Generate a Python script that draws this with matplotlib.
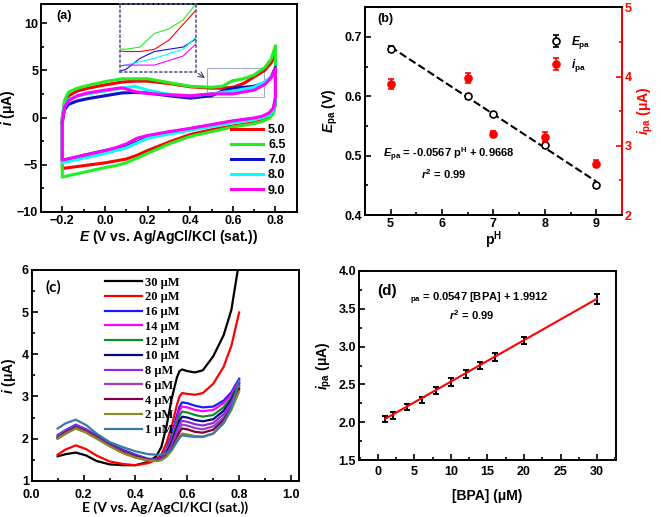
import matplotlib
matplotlib.use("Agg")
import matplotlib.pyplot as plt
from matplotlib.patches import Rectangle
from matplotlib.ticker import MultipleLocator

plt.rcParams['font.family'] = ['Liberation Sans', 'DejaVu Sans']
plt.rcParams['font.weight'] = 'bold'
plt.rcParams['axes.labelweight'] = 'bold'
plt.rcParams['mathtext.fontset'] = 'custom'
plt.rcParams['mathtext.rm'] = 'Liberation Sans:bold'
plt.rcParams['mathtext.it'] = 'Liberation Sans:italic:bold'
plt.rcParams['mathtext.bf'] = 'Liberation Sans:bold'
plt.rcParams['axes.linewidth'] = 1.4

# ---- (a) cyclic voltammograms at different pH ----
ph_labels = ["5.0", "6.5", "7.0", "8.0", "9.0"]
ph_colors = ["#ff0000", "#22ee22", "#1010cc", "#00ffff", "#ff00ff"]
E_fwd = [-0.2, -0.19, -0.17, -0.13, -0.08, 0.0, 0.08, 0.14, 0.2, 0.3, 0.4,
         0.5, 0.55, 0.6, 0.65, 0.7, 0.75, 0.78, 0.8]
i_fwd_50 = [-0.2, 1.5, 2.3, 2.8, 3.1, 3.45, 3.75, 3.85, 3.85, 3.6, 3.25,
            3.1, 3.1, 3.2, 3.6, 4.3, 5.0, 5.8, 6.8]
i_fwd_65 = [0.0, 1.8, 2.7, 3.1, 3.4, 3.8, 4.1, 4.1, 4.1, 3.7, 3.3,
            3.2, 3.3, 3.9, 4.1, 4.5, 5.3, 6.2, 7.6]
i_fwd_70 = [-0.5, 0.8, 1.4, 1.75, 2.0, 2.3, 2.6, 2.65, 2.6, 2.3, 2.05,
            2.3, 2.8, 3.1, 3.2, 3.3, 3.7, 4.3, 5.3]
i_fwd_80 = [-0.3, 1.2, 1.9, 2.25, 2.5, 2.8, 3.1, 3.3, 2.9, 2.45, 2.3,
            2.5, 2.65, 2.8, 3.0, 3.2, 3.8, 4.3, 5.0]
i_fwd_90 = [-0.5, 1.1, 1.8, 2.3, 2.6, 2.9, 3.15, 2.75, 2.55, 2.4, 2.3,
            2.5, 2.5, 2.5, 2.7, 2.9, 3.5, 4.2, 5.2]
E_rev = [0.8, 0.79, 0.77, 0.74, 0.7, 0.6, 0.5, 0.4, 0.3, 0.2, 0.15, 0.1,
         0.05, 0.0, -0.1, -0.2]
i_rev_50 = [1.5, 0.5, 0.0, -0.3, -0.55, -0.9, -1.3, -1.8, -2.6, -3.5, -4.0,
            -4.4, -4.6, -4.8, -5.1, -5.4]
i_rev_65 = [1.5, 0.4, -0.1, -0.4, -0.65, -1.0, -1.5, -2.0, -2.8, -3.8, -4.3,
            -4.8, -5.1, -5.3, -5.8, -6.3]
i_rev_70 = [2.0, 0.9, 0.4, 0.1, -0.1, -0.4, -0.8, -1.2, -1.6, -2.1, -2.6,
            -3.0, -3.3, -3.5, -4.0, -4.6]
i_rev_80 = [2.0, 0.8, 0.3, 0.0, -0.2, -0.55, -0.95, -1.35, -1.75, -2.2, -2.7,
            -3.2, -3.5, -3.8, -4.3, -4.8]
i_rev_90 = [2.2, 1.0, 0.5, 0.15, -0.05, -0.35, -0.75, -1.15, -1.5, -1.9, -2.2,
            -2.8, -3.2, -3.5, -4.0, -4.5]
i_fwd = [i_fwd_50, i_fwd_65, i_fwd_70, i_fwd_80, i_fwd_90]
i_rev = [i_rev_50, i_rev_65, i_rev_70, i_rev_80, i_rev_90]
zoom_x = (0.48, 0.745)
zoom_y = (2.2, 5.2)

# ---- (b) peak potential / current vs pH ----
ph = [5, 6.5, 7, 8, 9]
epa = [0.680, 0.600, 0.570, 0.518, 0.450]
epa_err = [0.005, 0.004, 0.004, 0.005, 0.004]
ipa_ph = [3.89, 3.98, 3.17, 3.13, 2.74]
ipa_ph_err = [0.07, 0.07, 0.05, 0.07, 0.05]
ph_slope, ph_icpt = -0.0567, 0.9668

# ---- (c) DPV at different BPA concentrations ----
conc_labels = ["30 \u03bcM", "20 \u03bcM", "16 \u03bcM", "14 \u03bcM", "12 \u03bcM",
               "10 \u03bcM", "8 \u03bcM", "6 \u03bcM", "4 \u03bcM", "2 \u03bcM", "1 \u03bcM"]
conc_colors = ["#000000", "#ff0000", "#1a1aff", "#ff00ff", "#118a2e", "#0a0a80",
               "#8a2be2", "#9a40c0", "#800040", "#8b8b2a", "#3a78a8"]
E_dpv = [0.10, 0.13, 0.17, 0.21, 0.25, 0.30, 0.35, 0.40, 0.45, 0.48, 0.50, 0.52,
         0.54, 0.56, 0.57, 0.58, 0.60, 0.63, 0.66, 0.70, 0.74, 0.77, 0.80]
i_30 = [1.58, 1.63, 1.67, 1.60, 1.47, 1.39, 1.37, 1.37, 1.45, 1.58, 1.80, 2.30,
        2.95, 3.45, 3.60, 3.64, 3.60, 3.57, 3.62, 3.95, 4.45, 5.05, 6.20]
i_20 = [1.62, 1.74, 1.84, 1.75, 1.60, 1.46, 1.40, 1.37, 1.42, 1.50, 1.62, 1.90,
        2.30, 2.80, 3.00, 3.08, 3.06, 3.04, 3.08, 3.30, 3.70, 4.20, 4.99]
i_16 = [2.08, 2.20, 2.33, 2.22, 2.08, 1.90, 1.74, 1.62, 1.52, 1.52, 1.56, 1.75,
        2.10, 2.55, 2.76, 2.86, 2.84, 2.78, 2.74, 2.76, 2.90, 3.10, 3.42]
i_14 = [2.06, 2.19, 2.32, 2.21, 2.06, 1.88, 1.72, 1.60, 1.51, 1.51, 1.55, 1.72,
        2.03, 2.45, 2.66, 2.76, 2.74, 2.68, 2.65, 2.68, 2.84, 3.05, 3.38]
i_12 = [2.04, 2.17, 2.30, 2.19, 2.05, 1.87, 1.71, 1.59, 1.50, 1.50, 1.54, 1.69,
        1.97, 2.36, 2.55, 2.64, 2.62, 2.56, 2.52, 2.56, 2.74, 2.98, 3.33]
i_10 = [2.02, 2.15, 2.28, 2.18, 2.04, 1.86, 1.70, 1.58, 1.50, 1.49, 1.53, 1.66,
        1.91, 2.26, 2.43, 2.52, 2.50, 2.44, 2.41, 2.46, 2.66, 2.92, 3.30]
i_8 = [2.02, 2.14, 2.27, 2.17, 2.03, 1.85, 1.69, 1.57, 1.49, 1.48, 1.52, 1.63,
       1.85, 2.18, 2.34, 2.42, 2.40, 2.34, 2.31, 2.37, 2.58, 2.86, 3.26]
i_6 = [2.01, 2.13, 2.26, 2.16, 2.02, 1.84, 1.68, 1.56, 1.49, 1.48, 1.51, 1.61,
       1.80, 2.10, 2.25, 2.33, 2.31, 2.25, 2.22, 2.29, 2.50, 2.80, 3.22]
i_4 = [2.00, 2.12, 2.25, 2.15, 2.01, 1.83, 1.67, 1.56, 1.48, 1.47, 1.50, 1.59,
       1.76, 2.02, 2.16, 2.24, 2.22, 2.16, 2.14, 2.21, 2.44, 2.74, 3.18]
i_2 = [2.00, 2.11, 2.24, 2.14, 2.00, 1.82, 1.66, 1.55, 1.48, 1.47, 1.49, 1.57,
       1.72, 1.95, 2.06, 2.12, 2.10, 2.06, 2.05, 2.12, 2.36, 2.68, 3.12]
i_1 = [2.24, 2.36, 2.45, 2.32, 2.12, 1.92, 1.80, 1.70, 1.63, 1.62, 1.62, 1.65,
       1.74, 1.92, 2.02, 2.08, 2.06, 2.04, 2.04, 2.12, 2.38, 2.72, 3.37]
i_dpv = [i_30, i_20, i_16, i_14, i_12, i_10, i_8, i_6, i_4, i_2, i_1]

# ---- (d) calibration ----
bpa = [1, 2, 4, 6, 8, 10, 12, 14, 16, 20, 30]
ipa_bpa = [2.04, 2.09, 2.20, 2.30, 2.42, 2.53, 2.64, 2.75, 2.86, 3.08, 3.63]
ipa_bpa_err = [0.04, 0.04, 0.04, 0.04, 0.04, 0.05, 0.05, 0.05, 0.05, 0.05, 0.07]
bpa_slope, bpa_icpt = 0.0547, 1.9912

fig = plt.figure(figsize=(6.61, 5.17), dpi=100)
TICK = 9
LAB = 10


def style(ax):
    ax.tick_params(direction='in', which='both', labelsize=TICK, width=1.2,
                   top=False, right=False, pad=2)
    ax.tick_params(which='major', length=4)
    ax.tick_params(which='minor', length=2.5)


# (a)
ax = fig.add_axes([0.062, 0.590, 0.387, 0.402])
for lab, col, yf, yr in zip(ph_labels, ph_colors, i_fwd, i_rev):
    ax.plot(E_fwd + E_rev + E_fwd[:1], yf + yr + yf[:1], color=col, lw=2.2, label=lab)
ax.set_xlim(-0.3, 0.9)
ax.set_ylim(-10, 12)
ax.xaxis.set_minor_locator(MultipleLocator(0.1))
ax.yaxis.set_major_locator(MultipleLocator(5))
ax.yaxis.set_minor_locator(MultipleLocator(2.5))
ax.set_xticks([-0.2, 0.0, 0.2, 0.4, 0.6, 0.8])
style(ax)
ax.set_xlabel(r"$\mathit{E}$ (V vs. Ag/AgCl/KCl (sat.))", fontsize=LAB, labelpad=1)
ax.set_ylabel(r"$\mathit{i}$ (μA)", fontsize=LAB, labelpad=0)
ax.text(0.06, 0.97, "(a)", transform=ax.transAxes, fontsize=9, va='top')
ax.legend(loc='lower right', bbox_to_anchor=(1.0, 0.02), frameon=False, fontsize=9,
          handlelength=2.6, labelspacing=0.25, handletextpad=0.4)
ax.add_patch(Rectangle((zoom_x[0], zoom_y[0]), zoom_x[1] - zoom_x[0], zoom_y[1] - zoom_y[0],
                       fill=False, ec='#a8a8c8', lw=0.8))
ins = fig.add_axes([0.1815, 0.861, 0.115, 0.131])
for col, yf in zip(ph_colors, i_fwd):
    ins.plot(E_fwd, yf, color=col, lw=0.8)
ins.set_xlim(*zoom_x)
ins.set_ylim(*zoom_y)
ins.set_xticks([])
ins.set_yticks([])
ins.patch.set_alpha(0)
for s in ins.spines.values():
    s.set_linestyle((0, (1, 2)))
    s.set_color('#5a5a9a')
    s.set_linewidth(1.2)
ax.annotate('', xy=(zoom_x[0], 4.0), xycoords='data', xytext=(1.0, 0.0),
            textcoords=ins.transAxes,
            arrowprops=dict(arrowstyle='->', color='#404060', lw=0.8))

# (b)
ax = fig.add_axes([0.552, 0.584, 0.389, 0.402])
ax2 = ax.twinx()
ax.errorbar(ph, epa, yerr=epa_err, fmt='o', mfc='white', mec='black', color='black',
            ms=5, capsize=2.5, elinewidth=1.2, mew=1.2, label=r"$\mathit{E}_{\rm pa}$", zorder=3)
ax.plot([ph[0], ph[-1]], [ph_slope * ph[0] + ph_icpt, ph_slope * ph[-1] + ph_icpt],
        'k--', lw=1.5, zorder=2)
ax2.errorbar(ph, ipa_ph, yerr=ipa_ph_err, fmt='o', color='red', ms=5, capsize=2.5,
             elinewidth=1.2, mew=1.2, label=r"$\mathit{i}_{\rm pa}$")
ax.set_xlim(4.5, 9.5)
ax.set_ylim(0.4, 0.75)
ax2.set_ylim(2, 5)
ax.xaxis.set_major_locator(MultipleLocator(1))
ax.xaxis.set_minor_locator(MultipleLocator(0.5))
ax.yaxis.set_major_locator(MultipleLocator(0.1))
ax.yaxis.set_minor_locator(MultipleLocator(0.05))
ax2.yaxis.set_major_locator(MultipleLocator(1))
ax2.yaxis.set_minor_locator(MultipleLocator(0.5))
style(ax)
ax2.tick_params(direction='in', which='both', labelsize=TICK, colors='red', width=1.2, pad=2)
ax2.tick_params(which='major', length=4)
ax2.tick_params(which='minor', length=2.5)
ax2.spines['right'].set_color('red')
ax.set_xlabel(r"p$^{\rm H}$", fontsize=LAB, labelpad=0)
ax.set_ylabel(r"$\mathit{E}_{\rm pa}$ (V)", fontsize=LAB, labelpad=3)
ax2.set_ylabel(r"$\mathit{i}_{\rm pa}$ (μA)", fontsize=LAB, color='red', labelpad=3)
ax.text(0.05, 0.97, "(b)", transform=ax.transAxes, fontsize=9, va='top')
ax.text(0.07, 0.275, r"$\mathit{E}_{\rm pa}$ = -0.0567 p$^{\rm H}$ + 0.9668",
        transform=ax.transAxes, fontsize=8)
ax.text(0.22, 0.175, r"$\mathit{r}^{2}$ = 0.99", transform=ax.transAxes, fontsize=8)
h1, l1 = ax.get_legend_handles_labels()
h2, l2 = ax2.get_legend_handles_labels()
ax2.legend(h1 + h2, l1 + l2, loc='upper right', bbox_to_anchor=(0.92, 0.92), frameon=False,
           fontsize=8.5, handlelength=1.0, labelspacing=0.5)

# (c)
ax = fig.add_axes([0.048, 0.070, 0.404, 0.408])
for lab, col, yv in zip(conc_labels, conc_colors, i_dpv):
    ax.plot(E_dpv, yv, color=col, lw=1.6, label=lab)
ax.set_xlim(0, 1.03)
ax.set_ylim(1, 6)
ax.xaxis.set_minor_locator(MultipleLocator(0.1))
ax.yaxis.set_major_locator(MultipleLocator(1))
ax.yaxis.set_minor_locator(MultipleLocator(0.5))
style(ax)
ax.tick_params(axis='x', pad=6)
ax.set_xticks([0.0, 0.2, 0.4, 0.6, 0.8, 1.0])
ax.set_xlabel("E (V vs. Ag/AgCl/KCl (sat.))", fontsize=LAB, labelpad=0, family='Lato')
ax.set_ylabel(r"$\mathit{i}$ (μA)", fontsize=LAB, labelpad=3)
ax.text(0.05, 0.95, "(c)", transform=ax.transAxes, fontsize=11, va='top', family='Lato')
ax.legend(loc='upper left', bbox_to_anchor=(0.24, 1.01), frameon=False,
          prop={'family': 'Liberation Serif', 'weight': 'bold', 'size': 9},
          handlelength=3.0, labelspacing=0.22, handletextpad=0.2, borderpad=0.2)

# (d)
ax = fig.add_axes([0.543, 0.110, 0.389, 0.366])
ax.plot([bpa[0], bpa[-1]], [bpa_slope * bpa[0] + bpa_icpt, bpa_slope * bpa[-1] + bpa_icpt],
        color='red', lw=1.5, zorder=3)
ax.errorbar(bpa, ipa_bpa, yerr=ipa_bpa_err, fmt='none', ecolor='black', capsize=2.5,
            elinewidth=1.4, capthick=1.4, zorder=2)
ax.set_xlim(-2.6, 32.6)
ax.set_ylim(1.5, 4.0)
ax.xaxis.set_minor_locator(MultipleLocator(2.5))
ax.yaxis.set_major_locator(MultipleLocator(0.5))
ax.yaxis.set_minor_locator(MultipleLocator(0.25))
style(ax)
ax.tick_params(axis='x', pad=4)
ax.set_xticks([0, 5, 10, 15, 20, 25, 30])
ax.set_xlabel("[BPA] (μM)", fontsize=LAB, labelpad=8)
ax.set_ylabel(r"$\mathit{i}_{\rm pa}$ (μA)", fontsize=LAB, labelpad=3)
ax.text(0.07, 0.93, "(d)", transform=ax.transAxes, fontsize=11, va='top')
ax.text(0.2, 0.84, r"$_{\rm pa}$ = 0.0547 [BPA] + 1.9912", transform=ax.transAxes, fontsize=8)
ax.text(0.35, 0.74, r"$\mathit{r}^{2}$ = 0.99", transform=ax.transAxes, fontsize=8)

fig.savefig("out.png", dpi=100)
